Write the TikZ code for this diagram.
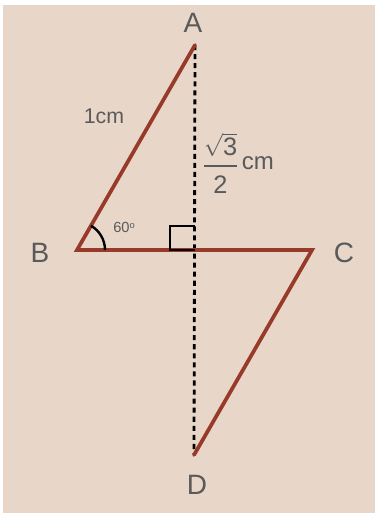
\documentclass[tikz,border=0pt]{standalone}
\usepackage{fontspec}
\setmainfont{Liberation Sans}
\usepackage{amsmath}
\usepackage{xcolor}
\usetikzlibrary{positioning,calc}
\definecolor{paper}{RGB}{232,214,201}
\definecolor{brick}{RGB}{152,58,42}
\definecolor{inkgray}{RGB}{90,90,90}

\begin{document}
\begin{tikzpicture}[
  x=0.75pt, y=-0.75pt,
  edge/.style={brick, line width=2.8pt, line cap=round, line join=miter},
  altitude/.style={black, line width=2.1pt, dash pattern=on 3.8pt off 3pt},
  vlabel/.style={text=inkgray, font=\fontsize{21}{21}\selectfont, inner sep=0pt},
  mlabel/.style={text=inkgray, inner sep=0pt}
]
% paper
\fill[white] (0,0) rectangle (377,516);
\fill[paper] (3,5) rectangle (375,513);
\useasboundingbox (0,0) rectangle (377,516);
% vertices
\coordinate (A) at (195,45);
\coordinate (B) at (77,250);
\coordinate (C) at (312,250);
\coordinate (D) at (194,455);
\coordinate (E) at (195,250);
% height
\draw[altitude] (A) -- (D);
% zigzag
\draw[edge] (A) -- (B) -- (C) -- (D);
% right angle and angle mark
\draw[black, line width=1.5pt] (E) -- ++(-25,0) -- ++(0,-24) -- ++(25,0);
\draw[black, line width=1.8pt] ($(B)+(28,0)$) arc[start angle=0, end angle=-60, radius=28];
% labels
\node[vlabel] (lblA) at (193,23) {A};
\node[vlabel] (lblB) at (40,253) {B};
\node[vlabel] (lblC) at (344,253) {C};
\node[vlabel] (lblD) at (197,485) {D};
\node[mlabel, font=\fontsize{16}{16}\selectfont] (side) at (104,116) {1cm};
\node[mlabel, font=\fontsize{11}{11}\selectfont] (ang) at (124,227) {60\raisebox{0.5ex}{\fontsize{7}{7}\selectfont o}};
\node[mlabel, font=\fontsize{19}{19}\selectfont, anchor=west] (half) at (202,163)
  {$\displaystyle{\sqrt{\textcolor{inkgray}{\mathrm{3}}}\above 2pt \textcolor{inkgray}{\mathrm{2}}}$\hspace{0.12em}\raisebox{2pt}{\fontsize{18}{18}\selectfont cm}};
\end{tikzpicture}
\end{document}
